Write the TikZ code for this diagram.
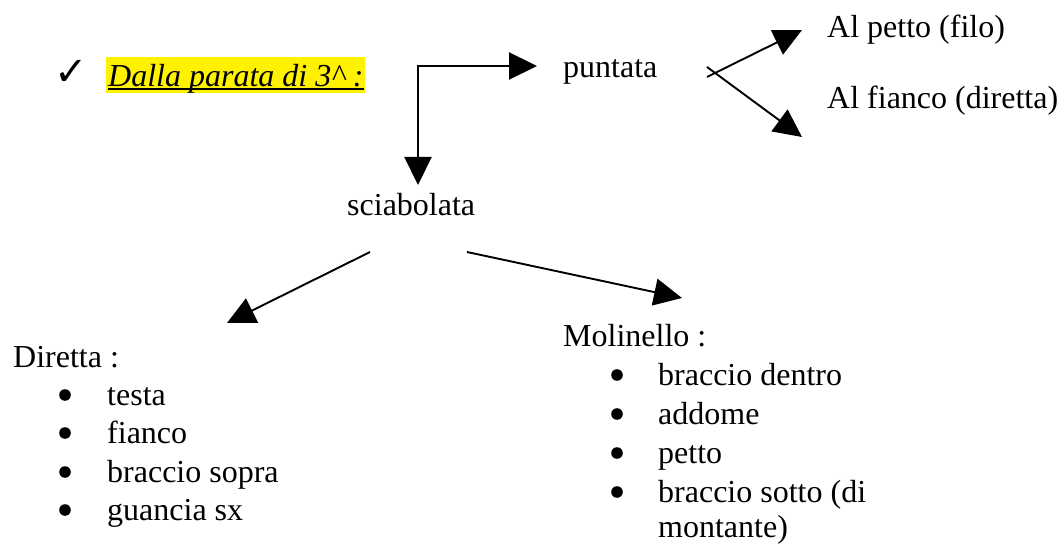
\documentclass[tikz,border=0pt]{standalone}
\usepackage{fontspec}
\setmainfont{Liberation Serif}
\newfontfamily\symfont{DejaVu Sans}
\usetikzlibrary{arrows.meta}

\tikzset{
  txt/.style={anchor=base west, inner sep=0pt, font=\fontsize{32}{38}\selectfont},
  arr/.style={-{Triangle[length=28pt,width=27pt]}, line width=1.9pt},
  biarr/.style={{Triangle[length=28pt,width=27pt]}-{Triangle[length=28pt,width=27pt]}, line width=2.2pt},
  dot/.style={fill=black},
  hilite/.style={fill=yellow, text height=30pt, text depth=6pt, inner xsep=2pt, inner ysep=0pt,
                 anchor=base west, font=\fontsize{32}{38}\selectfont\itshape}
}

\begin{document}
\begin{tikzpicture}[x=1pt, y=-1pt]
  \useasboundingbox (0,0) rectangle (1063,545);

  % heading with check mark, highlighted and underlined
  \node[inner sep=0pt, font=\symfont\fontsize{40}{44}\selectfont] (check) at (71,73) {✓};
  \node[hilite] (dalla) at (106,87) {Dalla parata di 3\^{} :};
  \draw[line width=2pt] ([shift={(2,2.5)}]dalla.base west) -- ([shift={(-2,2.5)}]dalla.base east);

  % first branch: puntata and its two targets
  \node[txt] (puntata) at (563,78) {puntata};
  \node[txt] (alpetto) at (827,38) {Al petto (filo)};
  \node[txt] (alfianco) at (827,109) {Al fianco (diretta)};

  % second branch: sciabolata
  \node[txt] (sciabolata) at (347,216) {sciabolata};

  % elbow connector from the heading
  \coordinate (corner) at (418,66);
  \coordinate (toPuntata) at (537,66);
  \coordinate (toSciabolata) at (418,185);
  \draw[biarr, line join=miter] (toPuntata) -- (corner) -- (toSciabolata);

  % split after puntata
  \coordinate (upStart) at (707,77);
  \coordinate (upEnd) at (802,30);
  \coordinate (downStart) at (707,67);
  \coordinate (downEnd) at (802,137);
  \draw[arr] (upStart) -- (upEnd);
  \draw[arr] (downStart) -- (downEnd);

  % split after sciabolata
  \coordinate (leftStart) at (370,252);
  \coordinate (leftEnd) at (227,323);
  \coordinate (rightStart) at (467,252);
  \coordinate (rightEnd) at (682,298);
  \draw[arr] (leftStart) -- (leftEnd);
  \draw[arr] (rightStart) -- (rightEnd);

  % Diretta list
  \node[txt] (diretta) at (13,367) {Diretta :};
  \node[txt] (d1) at (107,405) {testa};
  \node[txt] (d2) at (107,443) {fianco};
  \node[txt] (d3) at (107,482) {braccio sopra};
  \node[txt] (d4) at (107,520) {guancia sx};
  \foreach \yy in {405,443,482,520}
    \fill[dot] (65,\yy-10) circle[radius=5.8];

  % Molinello list
  \node[txt] (molinello) at (563,347) {Molinello :};
  \node[txt] (m1) at (658,385) {braccio dentro};
  \node[txt] (m2) at (658,424) {addome};
  \node[txt] (m3) at (658,463) {petto};
  \node[txt] (m4) at (658,502) {braccio sotto (di};
  \node[txt] (m5) at (658,537) {montante)};
  \foreach \yy in {385,424,463,502}
    \fill[dot] (617,\yy-10) circle[radius=5.8];
\end{tikzpicture}
\end{document}
